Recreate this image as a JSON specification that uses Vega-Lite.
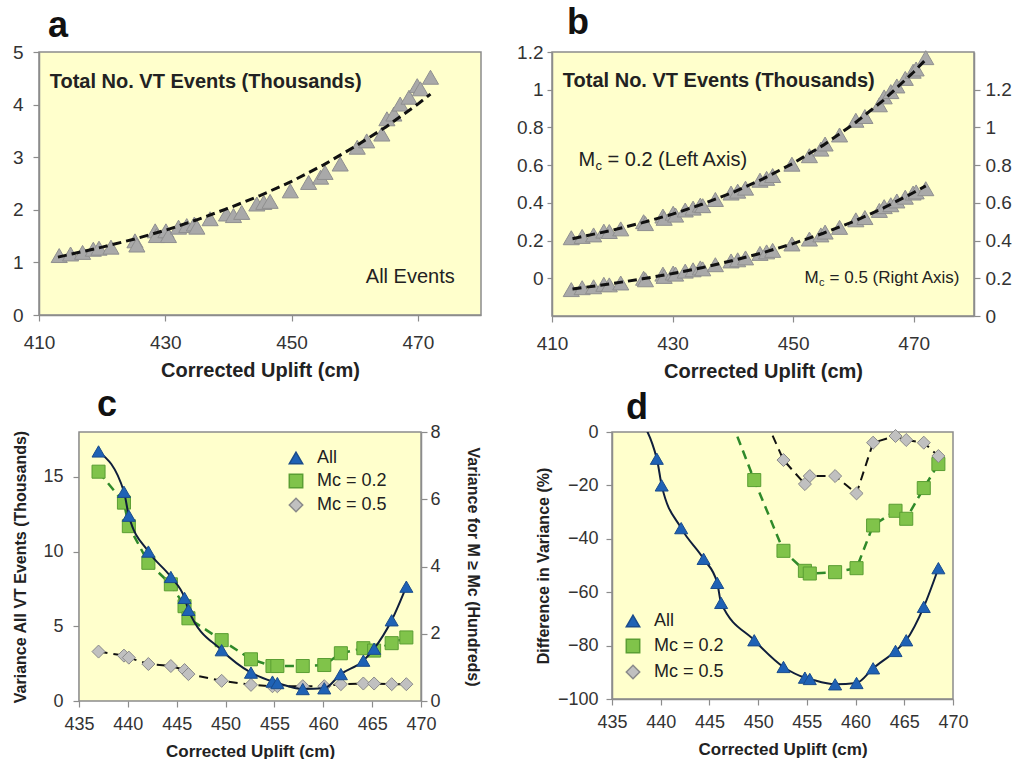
{
  "$schema": "https://vega.github.io/schema/vega-lite/v6.json",
  "background": "white",
  "padding": {"left": 11, "top": 4, "right": 5, "bottom": 0},
  "config": {
    "font": "Liberation Sans",
    "view": {"fill": "#FFFFCC", "stroke": "#8c8c8c", "strokeWidth": 1.5},
    "axis": {"grid": false, "labelFont": "Liberation Sans", "titleFont": "Liberation Sans", "labelColor": "#333333", "titleColor": "#222222", "titleFontWeight": "bold", "domainColor": "#8c8c8c", "tickColor": "#8c8c8c", "domainWidth": 1.5, "tickWidth": 1.2, "tickSize": 6, "labelFlush": false, "labelOverlap": false},
    "title": {"font": "Liberation Sans", "fontSize": 36, "fontWeight": "bold", "anchor": "start", "frame": "group", "color": "#111111", "baseline": "alphabetic"},
    "legend": {"labelFont": "Liberation Sans", "labelFontSize": 18, "labelColor": "#222222"}
  },
  "datasets": {
    "aPts": [
      {"x": 413.2, "v": 1.13}, {"x": 415.0, "v": 1.16}, {"x": 416.9, "v": 1.19}, {"x": 418.6, "v": 1.25}, {"x": 419.5, "v": 1.27}, {"x": 421.4, "v": 1.29}, {"x": 425.2, "v": 1.41}, {"x": 425.5, "v": 1.33}, {"x": 428.4, "v": 1.60}, {"x": 428.6, "v": 1.51}, {"x": 430.1, "v": 1.60}, {"x": 430.5, "v": 1.51}, {"x": 432.1, "v": 1.67}, {"x": 433.4, "v": 1.70}, {"x": 434.6, "v": 1.73}, {"x": 435.0, "v": 1.67}, {"x": 437.1, "v": 1.83}, {"x": 439.7, "v": 1.92}, {"x": 440.8, "v": 1.89}, {"x": 442.1, "v": 1.95}, {"x": 444.5, "v": 2.11}, {"x": 445.6, "v": 2.14}, {"x": 446.6, "v": 2.16}, {"x": 449.8, "v": 2.36}, {"x": 452.7, "v": 2.52}, {"x": 454.6, "v": 2.62}, {"x": 455.3, "v": 2.71}, {"x": 457.7, "v": 2.87}, {"x": 460.4, "v": 3.19}, {"x": 461.9, "v": 3.31}, {"x": 464.3, "v": 3.44}, {"x": 465.1, "v": 3.73}, {"x": 466.2, "v": 3.82}, {"x": 467.2, "v": 4.01}, {"x": 468.6, "v": 4.14}, {"x": 469.9, "v": 4.36}, {"x": 470.4, "v": 4.30}, {"x": 472.0, "v": 4.52}
    ],
    "aFit": [
      {"x": 413, "v": 1.10}, {"x": 420, "v": 1.29}, {"x": 425, "v": 1.44}, {"x": 430, "v": 1.61}, {"x": 435, "v": 1.81}, {"x": 440, "v": 2.03}, {"x": 445, "v": 2.27}, {"x": 450, "v": 2.54}, {"x": 455, "v": 2.85}, {"x": 460, "v": 3.20}, {"x": 465, "v": 3.58}, {"x": 470, "v": 4.01}, {"x": 472, "v": 4.20}
    ],
    "bUp": [
      {"x": 413.2, "v": 0.215}, {"x": 415.0, "v": 0.222}, {"x": 416.9, "v": 0.230}, {"x": 418.6, "v": 0.250}, {"x": 419.5, "v": 0.248}, {"x": 421.4, "v": 0.262}, {"x": 425.2, "v": 0.300}, {"x": 425.5, "v": 0.290}, {"x": 428.4, "v": 0.330}, {"x": 428.6, "v": 0.318}, {"x": 430.1, "v": 0.345}, {"x": 430.5, "v": 0.335}, {"x": 432.1, "v": 0.362}, {"x": 433.4, "v": 0.372}, {"x": 434.6, "v": 0.388}, {"x": 435.0, "v": 0.385}, {"x": 437.1, "v": 0.418}, {"x": 439.7, "v": 0.452}, {"x": 440.8, "v": 0.462}, {"x": 442.1, "v": 0.478}, {"x": 444.5, "v": 0.520}, {"x": 445.6, "v": 0.530}, {"x": 446.6, "v": 0.545}, {"x": 449.8, "v": 0.605}, {"x": 452.7, "v": 0.650}, {"x": 454.6, "v": 0.685}, {"x": 455.3, "v": 0.712}, {"x": 457.7, "v": 0.760}, {"x": 460.4, "v": 0.838}, {"x": 461.9, "v": 0.858}, {"x": 464.3, "v": 0.920}, {"x": 465.1, "v": 0.962}, {"x": 466.2, "v": 0.990}, {"x": 467.2, "v": 1.020}, {"x": 468.6, "v": 1.060}, {"x": 469.9, "v": 1.098}, {"x": 470.4, "v": 1.110}, {"x": 472.0, "v": 1.170}
    ],
    "bUpFit": [
      {"x": 413.4, "v": 0.21}, {"x": 420, "v": 0.255}, {"x": 425, "v": 0.295}, {"x": 430, "v": 0.34}, {"x": 435, "v": 0.394}, {"x": 440, "v": 0.455}, {"x": 445, "v": 0.527}, {"x": 450, "v": 0.61}, {"x": 455, "v": 0.706}, {"x": 460, "v": 0.817}, {"x": 465, "v": 0.945}, {"x": 470, "v": 1.094}, {"x": 472, "v": 1.16}
    ],
    "bLo": [
      {"x": 413.2, "v": 0.140}, {"x": 415.0, "v": 0.150}, {"x": 416.9, "v": 0.155}, {"x": 418.6, "v": 0.168}, {"x": 419.5, "v": 0.165}, {"x": 421.4, "v": 0.175}, {"x": 425.2, "v": 0.200}, {"x": 425.5, "v": 0.192}, {"x": 428.4, "v": 0.222}, {"x": 428.6, "v": 0.210}, {"x": 430.1, "v": 0.228}, {"x": 430.5, "v": 0.222}, {"x": 432.1, "v": 0.238}, {"x": 433.4, "v": 0.245}, {"x": 434.6, "v": 0.255}, {"x": 435.0, "v": 0.250}, {"x": 437.1, "v": 0.272}, {"x": 439.7, "v": 0.292}, {"x": 440.8, "v": 0.298}, {"x": 442.1, "v": 0.308}, {"x": 444.5, "v": 0.332}, {"x": 445.6, "v": 0.340}, {"x": 446.6, "v": 0.348}, {"x": 449.8, "v": 0.382}, {"x": 452.7, "v": 0.408}, {"x": 454.6, "v": 0.430}, {"x": 455.3, "v": 0.445}, {"x": 457.7, "v": 0.470}, {"x": 460.4, "v": 0.510}, {"x": 461.9, "v": 0.522}, {"x": 464.3, "v": 0.560}, {"x": 465.1, "v": 0.580}, {"x": 466.2, "v": 0.590}, {"x": 467.2, "v": 0.610}, {"x": 468.6, "v": 0.630}, {"x": 469.9, "v": 0.652}, {"x": 470.4, "v": 0.658}, {"x": 472.0, "v": 0.675}
    ],
    "bLoFit": [
      {"x": 413.4, "v": 0.143}, {"x": 420, "v": 0.172}, {"x": 425, "v": 0.197}, {"x": 430, "v": 0.225}, {"x": 435, "v": 0.257}, {"x": 440, "v": 0.294}, {"x": 445, "v": 0.336}, {"x": 450, "v": 0.384}, {"x": 455, "v": 0.439}, {"x": 460, "v": 0.501}, {"x": 465, "v": 0.573}, {"x": 470, "v": 0.655}, {"x": 472, "v": 0.69}
    ],
    "cData": [
      {"x": 437.0, "s": "All", "v": 16.7}, {"x": 439.6, "s": "All", "v": 14.0}, {"x": 440.1, "s": "All", "v": 12.4}, {"x": 442.1, "s": "All", "v": 10.0}, {"x": 444.4, "s": "All", "v": 8.3}, {"x": 445.8, "s": "All", "v": 6.9}, {"x": 446.2, "s": "All", "v": 6.1}, {"x": 449.6, "s": "All", "v": 3.4}, {"x": 452.6, "s": "All", "v": 1.9}, {"x": 454.8, "s": "All", "v": 1.3}, {"x": 455.3, "s": "All", "v": 1.2}, {"x": 457.9, "s": "All", "v": 0.8}, {"x": 460.1, "s": "All", "v": 0.85}, {"x": 461.8, "s": "All", "v": 1.8}, {"x": 464.1, "s": "All", "v": 2.7}, {"x": 465.2, "s": "All", "v": 3.5}, {"x": 467.0, "s": "All", "v": 5.4}, {"x": 468.5, "s": "All", "v": 7.65},
      {"x": 437.0, "s": "Mc = 0.2", "v": 6.82}, {"x": 439.6, "s": "Mc = 0.2", "v": 5.9}, {"x": 440.1, "s": "Mc = 0.2", "v": 5.2}, {"x": 442.1, "s": "Mc = 0.2", "v": 4.11}, {"x": 444.4, "s": "Mc = 0.2", "v": 3.47}, {"x": 445.8, "s": "Mc = 0.2", "v": 2.82}, {"x": 446.2, "s": "Mc = 0.2", "v": 2.46}, {"x": 449.6, "s": "Mc = 0.2", "v": 1.81}, {"x": 452.6, "s": "Mc = 0.2", "v": 1.24}, {"x": 454.8, "s": "Mc = 0.2", "v": 1.04}, {"x": 455.3, "s": "Mc = 0.2", "v": 1.04}, {"x": 457.9, "s": "Mc = 0.2", "v": 1.04}, {"x": 460.1, "s": "Mc = 0.2", "v": 1.07}, {"x": 461.8, "s": "Mc = 0.2", "v": 1.42}, {"x": 464.1, "s": "Mc = 0.2", "v": 1.57}, {"x": 465.2, "s": "Mc = 0.2", "v": 1.5}, {"x": 467.0, "s": "Mc = 0.2", "v": 1.72}, {"x": 468.5, "s": "Mc = 0.2", "v": 1.89},
      {"x": 437.0, "s": "Mc = 0.5", "v": 1.47}, {"x": 439.6, "s": "Mc = 0.5", "v": 1.35}, {"x": 440.1, "s": "Mc = 0.5", "v": 1.29}, {"x": 442.1, "s": "Mc = 0.5", "v": 1.1}, {"x": 444.4, "s": "Mc = 0.5", "v": 1.04}, {"x": 445.8, "s": "Mc = 0.5", "v": 0.92}, {"x": 446.2, "s": "Mc = 0.5", "v": 0.8}, {"x": 449.6, "s": "Mc = 0.5", "v": 0.6}, {"x": 452.6, "s": "Mc = 0.5", "v": 0.48}, {"x": 454.8, "s": "Mc = 0.5", "v": 0.44}, {"x": 455.3, "s": "Mc = 0.5", "v": 0.44}, {"x": 457.9, "s": "Mc = 0.5", "v": 0.44}, {"x": 460.1, "s": "Mc = 0.5", "v": 0.44}, {"x": 461.8, "s": "Mc = 0.5", "v": 0.5}, {"x": 464.1, "s": "Mc = 0.5", "v": 0.52}, {"x": 465.2, "s": "Mc = 0.5", "v": 0.52}, {"x": 467.0, "s": "Mc = 0.5", "v": 0.5}, {"x": 468.5, "s": "Mc = 0.5", "v": 0.5}
    ],
    "dData": [
      {"x": 437.0, "s": "All", "v": 8}, {"x": 439.6, "s": "All", "v": -10}, {"x": 440.1, "s": "All", "v": -20}, {"x": 442.1, "s": "All", "v": -36}, {"x": 444.4, "s": "All", "v": -47.5}, {"x": 445.8, "s": "All", "v": -56.5}, {"x": 446.2, "s": "All", "v": -64}, {"x": 449.6, "s": "All", "v": -78}, {"x": 452.6, "s": "All", "v": -88}, {"x": 454.8, "s": "All", "v": -92}, {"x": 455.3, "s": "All", "v": -92.5}, {"x": 457.9, "s": "All", "v": -94.5}, {"x": 460.1, "s": "All", "v": -94}, {"x": 461.8, "s": "All", "v": -88.5}, {"x": 464.1, "s": "All", "v": -82}, {"x": 465.2, "s": "All", "v": -78}, {"x": 467.0, "s": "All", "v": -65.5}, {"x": 468.5, "s": "All", "v": -51},
      {"x": 446.2, "s": "Mc = 0.2", "v": 14}, {"x": 449.6, "s": "Mc = 0.2", "v": -18}, {"x": 452.6, "s": "Mc = 0.2", "v": -44.5}, {"x": 454.8, "s": "Mc = 0.2", "v": -52}, {"x": 455.3, "s": "Mc = 0.2", "v": -53}, {"x": 457.9, "s": "Mc = 0.2", "v": -52.5}, {"x": 460.1, "s": "Mc = 0.2", "v": -51}, {"x": 461.8, "s": "Mc = 0.2", "v": -35}, {"x": 464.1, "s": "Mc = 0.2", "v": -29.5}, {"x": 465.2, "s": "Mc = 0.2", "v": -32.5}, {"x": 467.0, "s": "Mc = 0.2", "v": -21}, {"x": 468.5, "s": "Mc = 0.2", "v": -12},
      {"x": 449.6, "s": "Mc = 0.5", "v": 14}, {"x": 452.6, "s": "Mc = 0.5", "v": -10.5}, {"x": 454.8, "s": "Mc = 0.5", "v": -19.5}, {"x": 455.3, "s": "Mc = 0.5", "v": -16.5}, {"x": 457.9, "s": "Mc = 0.5", "v": -16.5}, {"x": 460.1, "s": "Mc = 0.5", "v": -23}, {"x": 461.8, "s": "Mc = 0.5", "v": -4}, {"x": 464.1, "s": "Mc = 0.5", "v": -1.5}, {"x": 465.2, "s": "Mc = 0.5", "v": -3}, {"x": 467.0, "s": "Mc = 0.5", "v": -4}, {"x": 468.5, "s": "Mc = 0.5", "v": -9}
    ]
  },
  "spacing": 5,
  "resolve": {"scale": {"shape": "independent", "fill": "independent", "stroke": "independent"}, "legend": {"shape": "independent", "fill": "independent"}},
  "vconcat": [
    {
      "spacing": 33,
      "hconcat": [
        {
          "width": 442, "height": 263,
          "title": {"text": "a", "dx": 9, "offset": -2},
          "layer": [
            {
              "data": {"name": "aPts"},
              "mark": {"type": "point", "shape": "triangle-up", "filled": true, "fill": "#a9a9a9", "stroke": "#8f8f8f", "strokeWidth": 1, "size": 260, "opacity": 1},
              "encoding": {
                "x": {"field": "x", "type": "quantitative", "scale": {"domain": [410, 480], "nice": false, "zero": false}, "axis": {"values": [410, 430, 450, 470], "title": "Corrected Uplift  (cm)", "titleFontSize": 20, "labelFontSize": 19, "labelPadding": 12, "titlePadding": 8, "labelOverlap": false}},
                "y": {"field": "v", "type": "quantitative", "scale": {"domain": [0, 5], "nice": false}, "axis": {"values": [0, 1, 2, 3, 4, 5], "title": null, "labelFontSize": 19, "labelPadding": 10, "labelOverlap": false}}
              }
            },
            {
              "data": {"name": "aFit"},
              "mark": {"type": "line", "color": "#111111", "strokeWidth": 3, "strokeDash": [9, 5]},
              "encoding": {"x": {"field": "x", "type": "quantitative"}, "y": {"field": "v", "type": "quantitative"}}
            },
            {
              "data": {"values": [{}]},
              "mark": {"type": "text", "text": "Total No. VT Events (Thousands)", "align": "left", "baseline": "middle", "fontSize": 20, "fontWeight": "bold", "color": "#222222"},
              "encoding": {"x": {"datum": 411.7}, "y": {"datum": 4.43}}
            },
            {
              "data": {"values": [{}]},
              "mark": {"type": "text", "text": "All Events", "align": "center", "baseline": "middle", "fontSize": 20, "color": "#222222"},
              "encoding": {"x": {"datum": 468.8}, "y": {"datum": 0.72}}
            }
          ]
        },
        {
          "width": 422, "height": 264,
          "title": {"text": "b", "dx": 15, "offset": 1},
          "resolve": {"scale": {"y": "independent"}},
          "layer": [
            {
              "layer": [
                {
                  "data": {"name": "bUp"},
                  "mark": {"type": "point", "shape": "triangle-up", "filled": true, "fill": "#a9a9a9", "stroke": "#8f8f8f", "strokeWidth": 1, "size": 260, "opacity": 1},
                  "encoding": {
                    "x": {"field": "x", "type": "quantitative", "scale": {"domain": [410, 480], "nice": false, "zero": false}, "axis": {"values": [410, 430, 450, 470], "title": "Corrected Uplift  (cm)", "titleFontSize": 20, "labelFontSize": 19, "labelPadding": 12, "titlePadding": 8, "labelOverlap": false}},
                    "y": {"field": "v", "type": "quantitative", "scale": {"domain": [-0.2, 1.2], "nice": false, "zero": false}, "axis": {"orient": "left", "values": [0, 0.2, 0.4, 0.6, 0.8, 1, 1.2], "format": "~g", "title": null, "labelFontSize": 19, "labelPadding": 4, "tickSize": 5, "labelOverlap": false}}
                  }
                },
                {
                  "data": {"name": "bUpFit"},
                  "mark": {"type": "line", "color": "#111111", "strokeWidth": 3, "strokeDash": [9, 5]},
                  "encoding": {"x": {"field": "x", "type": "quantitative"}, "y": {"field": "v", "type": "quantitative"}}
                },
                {
                  "data": {"values": [{}]},
                  "mark": {"type": "text", "text": "Total No. VT Events (Thousands)", "align": "left", "baseline": "middle", "fontSize": 20, "fontWeight": "bold", "color": "#222222"},
                  "encoding": {"x": {"datum": 411.8}, "y": {"datum": 1.045}}
                },
                {
                  "data": {"values": [{}]},
                  "mark": {"type": "text", "text": "M", "align": "left", "baseline": "middle", "fontSize": 20, "color": "#222222"},
                  "encoding": {"x": {"datum": 414.4}, "y": {"datum": 0.625}}
                },
                {
                  "data": {"values": [{}]},
                  "mark": {"type": "text", "text": "c", "align": "left", "baseline": "middle", "fontSize": 13, "color": "#222222", "dx": 17, "dy": 6},
                  "encoding": {"x": {"datum": 414.4}, "y": {"datum": 0.625}}
                },
                {
                  "data": {"values": [{}]},
                  "mark": {"type": "text", "text": "= 0.2 (Left Axis)", "align": "left", "baseline": "middle", "fontSize": 20, "color": "#222222", "dx": 29},
                  "encoding": {"x": {"datum": 414.4}, "y": {"datum": 0.625}}
                },
                {
                  "data": {"values": [{}]},
                  "mark": {"type": "text", "text": "M", "align": "left", "baseline": "middle", "fontSize": 17, "color": "#222222"},
                  "encoding": {"x": {"datum": 451.9}, "y": {"datum": 0.0}}
                },
                {
                  "data": {"values": [{}]},
                  "mark": {"type": "text", "text": "c", "align": "left", "baseline": "middle", "fontSize": 11, "color": "#222222", "dx": 14.5, "dy": 5},
                  "encoding": {"x": {"datum": 451.9}, "y": {"datum": 0.0}}
                },
                {
                  "data": {"values": [{}]},
                  "mark": {"type": "text", "text": "= 0.5 (Right Axis)", "align": "left", "baseline": "middle", "fontSize": 17, "color": "#222222", "dx": 25},
                  "encoding": {"x": {"datum": 451.9}, "y": {"datum": 0.0}}
                }
              ]
            },
            {
              "layer": [
                {
                  "data": {"name": "bLo"},
                  "mark": {"type": "point", "shape": "triangle-up", "filled": true, "fill": "#a9a9a9", "stroke": "#8f8f8f", "strokeWidth": 1, "size": 260, "opacity": 1},
                  "encoding": {
                    "x": {"field": "x", "type": "quantitative"},
                    "y": {"field": "v", "type": "quantitative", "scale": {"domain": [0, 1.4], "nice": false}, "axis": {"orient": "right", "values": [0, 0.2, 0.4, 0.6, 0.8, 1, 1.2], "format": "~g", "title": null, "labelFontSize": 19, "labelPadding": 5, "labelOverlap": false}}
                  }
                },
                {
                  "data": {"name": "bLoFit"},
                  "mark": {"type": "line", "color": "#111111", "strokeWidth": 3, "strokeDash": [9, 5]},
                  "encoding": {"x": {"field": "x", "type": "quantitative"}, "y": {"field": "v", "type": "quantitative"}}
                }
              ]
            }
          ]
        }
      ]
    },
    {
      "spacing": 53,
      "resolve": {"scale": {"shape": "independent", "fill": "independent", "stroke": "independent"}, "legend": {"shape": "independent", "fill": "independent"}},
      "hconcat": [
        {
          "width": 382, "height": 269,
          "view": {"fill": null, "stroke": null},
          "title": {"text": "c", "dx": 58, "offset": -1},
          "resolve": {"scale": {"y": "independent"}},
          "layer": [
            {
              "layer": [
                {
                  "data": {"values": [{}]},
                  "mark": {"type": "rect", "fill": "#FFFFCC", "stroke": "#8c8c8c", "strokeWidth": 1.5},
                  "encoding": {"x": {"datum": 435}, "x2": {"datum": 470}, "y": {"datum": 0}, "y2": {"datum": 8}}
                },
                {
                  "data": {"name": "cData"},
                  "transform": [{"filter": "datum.s == 'Mc = 0.5'"}],
                  "mark": {"type": "line", "color": "#111111", "strokeWidth": 2, "strokeDash": [9, 6]},
                  "encoding": {"x": {"field": "x", "type": "quantitative"}, "y": {"field": "v", "type": "quantitative"}}
                },
                {
                  "data": {"name": "cData"},
                  "transform": [{"filter": "datum.s == 'Mc = 0.2'"}],
                  "mark": {"type": "line", "color": "#2f8a2a", "strokeWidth": 2.5, "strokeDash": [9, 6]},
                  "encoding": {"x": {"field": "x", "type": "quantitative"}, "y": {"field": "v", "type": "quantitative"}}
                },
                {
                  "data": {"name": "cData"},
                  "transform": [{"filter": "datum.s != 'All'"}],
                  "mark": {"type": "point", "filled": true, "opacity": 1, "strokeWidth": 1},
                  "encoding": {
                    "x": {"field": "x", "type": "quantitative", "scale": {"domain": [435, 470], "nice": false, "zero": false, "range": [40, 382]}, "axis": {"values": [435, 440, 445, 450, 455, 460, 465, 470], "domain": false, "title": "Corrected Uplift  (cm)", "titleFontSize": 17, "labelFontSize": 18, "labelPadding": 8, "titlePadding": 10, "labelOverlap": false}},
                    "y": {"field": "v", "type": "quantitative", "scale": {"domain": [0, 8], "nice": false}, "axis": {"orient": "right", "values": [0, 1, 2, 3, 4, 5, 6, 7, 8], "title": "Variance for M ≥ Mc (Hundreds)", "titleFontSize": 16, "labelFontSize": 18, "labelPadding": 3, "titlePadding": 24, "labelOverlap": false}},
                    "shape": {"field": "s", "type": "nominal", "scale": {"domain": ["All", "Mc = 0.2", "Mc = 0.5"], "range": ["triangle-up", "square", "diamond"]}, "legend": {"title": null, "orient": "none", "legendX": 248, "legendY": 17, "symbolSize": 180, "rowPadding": 4, "labelOffset": 12}},
                    "fill": {"field": "s", "type": "nominal", "scale": {"domain": ["All", "Mc = 0.2", "Mc = 0.5"], "range": ["#1f62b5", "#80c34a", "#c0c0c0"]}, "legend": {"title": null, "orient": "none", "legendX": 248, "legendY": 17, "symbolSize": 180, "rowPadding": 4, "labelOffset": 12}},
                    "stroke": {"field": "s", "type": "nominal", "scale": {"domain": ["All", "Mc = 0.2", "Mc = 0.5"], "range": ["#1a4c8c", "#5a9e33", "#8a8a8a"]}, "legend": null},
                    "size": {"value": 170}
                  }
                }
              ]
            },
            {
              "data": {"name": "cData"},
              "transform": [{"filter": "datum.s == 'All'"}],
              "layer": [
                {
                  "mark": {"type": "line", "color": "#0f1e3c", "strokeWidth": 2, "interpolate": "monotone"},
                  "encoding": {"x": {"field": "x", "type": "quantitative"}, "y": {"field": "v", "type": "quantitative"}}
                },
                {
                  "mark": {"type": "point", "filled": true, "opacity": 1, "strokeWidth": 1},
                  "encoding": {
                    "x": {"field": "x", "type": "quantitative"},
                    "y": {"field": "v", "type": "quantitative", "scale": {"domain": [0, 18], "nice": false}, "axis": {"orient": "left", "offset": -40, "values": [0, 5, 10, 15], "title": "Variance All VT Events (Thousands)", "titleFontSize": 16, "labelFontSize": 18, "labelPadding": 10, "titlePadding": 14, "labelOverlap": false}},
                    "shape": {"field": "s", "type": "nominal", "scale": {"domain": ["All", "Mc = 0.2", "Mc = 0.5"], "range": ["triangle-up", "square", "diamond"]}, "legend": {"title": null, "orient": "none", "legendX": 248, "legendY": 17, "symbolSize": 180, "rowPadding": 4, "labelOffset": 12}},
                    "fill": {"field": "s", "type": "nominal", "scale": {"domain": ["All", "Mc = 0.2", "Mc = 0.5"], "range": ["#1f62b5", "#80c34a", "#c0c0c0"]}, "legend": {"title": null, "orient": "none", "legendX": 248, "legendY": 17, "symbolSize": 180, "rowPadding": 4, "labelOffset": 12}},
                    "stroke": {"field": "s", "type": "nominal", "scale": {"domain": ["All", "Mc = 0.2", "Mc = 0.5"], "range": ["#1a4c8c", "#5a9e33", "#8a8a8a"]}, "legend": null},
                    "size": {"value": 170}
                  }
                }
              ]
            }
          ]
        },
        {
          "width": 341, "height": 267,
          "title": {"text": "d", "dx": 14, "offset": -4},
          "data": {"name": "dData"},
          "layer": [
            {
              "transform": [{"filter": "datum.s == 'Mc = 0.5'"}],
              "mark": {"type": "line", "color": "#111111", "strokeWidth": 2, "strokeDash": [9, 6], "clip": true},
              "encoding": {"x": {"field": "x", "type": "quantitative"}, "y": {"field": "v", "type": "quantitative"}}
            },
            {
              "transform": [{"filter": "datum.s == 'Mc = 0.2'"}],
              "mark": {"type": "line", "color": "#2f8a2a", "strokeWidth": 2.5, "strokeDash": [9, 6], "clip": true},
              "encoding": {"x": {"field": "x", "type": "quantitative"}, "y": {"field": "v", "type": "quantitative"}}
            },
            {
              "transform": [{"filter": "datum.s == 'All'"}],
              "mark": {"type": "line", "color": "#0f1e3c", "strokeWidth": 2, "interpolate": "monotone", "clip": true},
              "encoding": {"x": {"field": "x", "type": "quantitative"}, "y": {"field": "v", "type": "quantitative"}}
            },
            {
              "transform": [{"filter": "datum.v <= 0"}],
              "mark": {"type": "point", "filled": true, "opacity": 1, "strokeWidth": 1},
              "encoding": {
                "x": {"field": "x", "type": "quantitative", "scale": {"domain": [435, 470], "nice": false, "zero": false}, "axis": {"values": [435, 440, 445, 450, 455, 460, 465, 470], "title": "Corrected Uplift  (cm)", "titleFontSize": 17, "labelFontSize": 18, "labelPadding": 8, "titlePadding": 10, "labelOverlap": false}},
                "y": {"field": "v", "type": "quantitative", "scale": {"domain": [-100, 0], "nice": false}, "axis": {"values": [-100, -80, -60, -40, -20, 0], "title": "Difference in Variance  (%)", "titleFontSize": 16, "labelFontSize": 18, "labelPadding": 8, "titlePadding": 6, "labelOverlap": false}},
                "shape": {"field": "s", "type": "nominal", "scale": {"domain": ["All", "Mc = 0.2", "Mc = 0.5"], "range": ["triangle-up", "square", "diamond"]}, "legend": {"title": null, "orient": "none", "legendX": 12, "legendY": 180, "symbolSize": 180, "rowPadding": 6, "labelOffset": 12}},
                "fill": {"field": "s", "type": "nominal", "scale": {"domain": ["All", "Mc = 0.2", "Mc = 0.5"], "range": ["#1f62b5", "#80c34a", "#c0c0c0"]}, "legend": {"title": null, "orient": "none", "legendX": 12, "legendY": 180, "symbolSize": 180, "rowPadding": 6, "labelOffset": 12}},
                "stroke": {"field": "s", "type": "nominal", "scale": {"domain": ["All", "Mc = 0.2", "Mc = 0.5"], "range": ["#1a4c8c", "#5a9e33", "#8a8a8a"]}, "legend": null},
                "size": {"value": 170}
              }
            }
          ]
        }
      ]
    }
  ]
}
